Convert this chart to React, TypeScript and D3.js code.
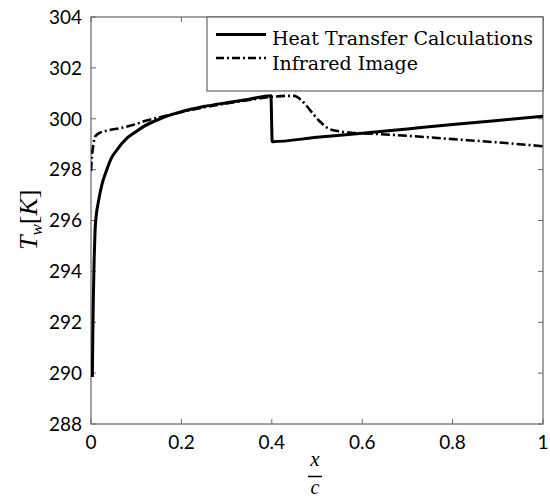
import React from "react";
import * as d3 from "d3";

// Heat Transfer Calculations (solid)
const heatX = [0.003, 0.004, 0.005, 0.007, 0.009, 0.011, 0.016, 0.024, 0.035, 0.045, 0.057, 0.079, 0.1, 0.116, 0.153, 0.2, 0.25, 0.3, 0.35, 0.398, 0.401, 0.5, 0.6, 0.7, 0.8, 0.9, 1.0];
const heatT = [289.85, 291.5, 292.8, 294.5, 295.6, 296.1, 296.7, 297.4, 298.0, 298.45, 298.77, 299.23, 299.5, 299.69, 300.0, 300.28, 300.48, 300.63, 300.77, 300.9, 299.1, 299.27, 299.43, 299.6, 299.77, 299.93, 300.1];

// Infrared Image (dash-dot)
const irX = [0.0, 0.002, 0.005, 0.009, 0.02, 0.04, 0.064, 0.09, 0.123, 0.15, 0.2, 0.25, 0.3, 0.35, 0.4, 0.43, 0.45, 0.462, 0.475, 0.49, 0.507, 0.525, 0.55, 0.575, 0.6, 0.7, 0.8, 0.9, 1.0];
const irT = [297.95, 298.5, 298.95, 299.3, 299.45, 299.55, 299.63, 299.74, 299.93, 300.05, 300.26, 300.45, 300.6, 300.74, 300.86, 300.9, 300.9, 300.78, 300.55, 300.22, 299.88, 299.62, 299.5, 299.45, 299.43, 299.33, 299.2, 299.07, 298.92];

const xTicks = [0, 0.2, 0.4, 0.6, 0.8, 1];
const xTickLabels = ["0", "0.2", "0.4", "0.6", "0.8", "1"];
const yTicks = [288, 290, 292, 294, 296, 298, 300, 302, 304];
const legendLabels = ["Heat Transfer Calculations", "Infrared Image"];

const W = 550, H = 498;
const L = 91, R = 543, T = 17, B = 424;
const axisColor = "#666";
const DASH = "9,3,2,3";

export default function App() {
  const x = d3.scaleLinear().domain([0, 1]).range([L, R]);
  const y = d3.scaleLinear().domain([288, 304]).range([B, T]);
  const line = d3.line<[number, number]>().x(d => x(d[0])).y(d => y(d[1])).curve(d3.curveMonotoneX);
  const heat: [number, number][] = heatX.map((v, i) => [v, heatT[i]]);
  const ir: [number, number][] = irX.map((v, i) => [v, irT[i]]);
  const tick = 5;
  return (
    <svg width={W} height={H} style={{ position: "absolute", left: 0, top: 0, background: "#fff" }}>
      <rect x={0} y={0} width={W} height={H} fill="#fff" />
      <defs>
        <clipPath id="clip"><rect x={L} y={T} width={R - L} height={B - T} /></clipPath>
      </defs>
      {/* frame */}
      <rect x={L} y={T} width={R - L} height={B - T} fill="none" stroke={axisColor} strokeWidth={1.2} />
      {xTicks.map((t, i) => (
        <g key={"xt" + i}>
          <line x1={x(t)} x2={x(t)} y1={B} y2={B - tick} stroke={axisColor} />
          <line x1={x(t)} x2={x(t)} y1={T} y2={T + tick} stroke={axisColor} />
          <text x={x(t)} y={449} textAnchor="middle" fontFamily="Lato, 'Open Sans', sans-serif" fontSize={19} fill="#000">{xTickLabels[i]}</text>
        </g>
      ))}
      {yTicks.map((t, i) => (
        <g key={"yt" + i}>
          <line x1={L} x2={L + tick} y1={y(t)} y2={y(t)} stroke={axisColor} />
          <line x1={R} x2={R - tick} y1={y(t)} y2={y(t)} stroke={axisColor} />
          <text x={82} y={y(t)} dy="0.36em" textAnchor="end" fontFamily="Lato, 'Open Sans', sans-serif" fontSize={19} fill="#000">{t}</text>
        </g>
      ))}
      {/* data */}
      <g clipPath="url(#clip)">
        <path d={line(ir) || ""} fill="none" stroke="#000" strokeWidth={2.6} strokeDasharray={DASH} />
        <path d={line(heat) || ""} fill="none" stroke="#000" strokeWidth={3} />
      </g>
      {/* legend */}
      <rect x={207} y={T} width={R - 207} height={74} fill="#fff" stroke={axisColor} strokeWidth={1.2} />
      <line x1={216} x2={266} y1={34.5} y2={34.5} stroke="#000" strokeWidth={3} />
      <line x1={216} x2={266} y1={58} y2={58} stroke="#000" strokeWidth={2.6} strokeDasharray="8,3,2,3" />
      <text x={272} y={45} fontFamily="'DejaVu Serif', serif" fontSize={18} textLength={261} lengthAdjust="spacingAndGlyphs" fill="#000">{legendLabels[0]}</text>
      <text x={272} y={70} fontFamily="'DejaVu Serif', serif" fontSize={18} textLength={146} lengthAdjust="spacingAndGlyphs" fill="#000">{legendLabels[1]}</text>
      {/* y label */}
      <text transform="translate(37,250) rotate(-90)" fontFamily="'Liberation Serif', serif" fontSize={26} fill="#000">
        <tspan fontStyle="italic">T</tspan>
        <tspan fontStyle="italic" fontSize={17} dy={5}>w</tspan>
        <tspan dy={-5}>[</tspan>
        <tspan fontStyle="italic">K</tspan>
        <tspan>]</tspan>
      </text>
      {/* x label */}
      <text x={315} y={466} textAnchor="middle" fontFamily="'Liberation Serif', serif" fontStyle="italic" fontSize={21} fill="#000">x</text>
      <line x1={308} x2={322} y1={476.5} y2={476.5} stroke="#000" strokeWidth={1.5} />
      <text x={315} y={494} textAnchor="middle" fontFamily="'Liberation Serif', serif" fontStyle="italic" fontSize={20} fill="#000">c</text>
    </svg>
  );
}
